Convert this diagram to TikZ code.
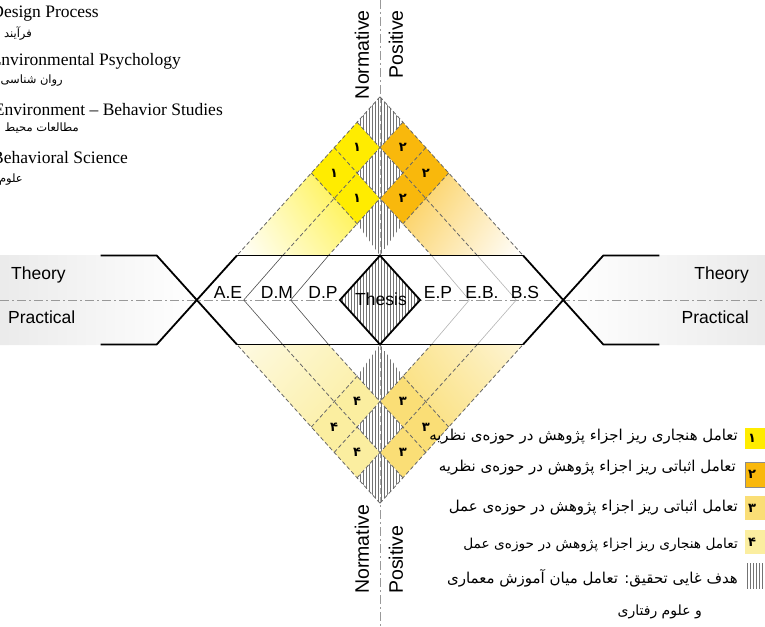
\documentclass[tikz,border=0pt]{standalone}
\usepackage{fontspec}
\setmainfont{Liberation Serif}
\setsansfont{Liberation Sans}
\newfontfamily\fafont[Script=Arabic]{DejaVu Sans}
\TeXXeTstate=1
\usetikzlibrary{patterns,shadings}

\definecolor{normyellow}{RGB}{255,236,0}
\definecolor{posorange}{RGB}{249,184,12}
\definecolor{posgold}{RGB}{250,222,118}
\definecolor{normpale}{RGB}{251,238,160}

\begin{document}
\begin{tikzpicture}[x=1pt,y=-1pt,
    heavy/.style={line width=1.8pt,black},
    guide/.style={line width=0.6pt,black!70},
    faintguide/.style={line width=0.6pt,black!30},
    celledge/.style={line width=0.8pt,black!60,dash pattern=on 4pt off 2.5pt},
    hatched/.style={preaction={fill=white},pattern=vertical lines,pattern color=black!55},
    axisline/.style={line width=1pt,black!40,dash pattern=on 9pt off 3pt on 2pt off 3pt},
    lbl/.style={font=\sffamily\fontsize{17.5}{17.5}\selectfont,inner sep=0pt},
    vlbl/.style={font=\sffamily\fontsize{19.5}{19.5}\selectfont,inner sep=0pt,rotate=90},
    digit/.style={font=\fafont\bfseries\fontsize{13}{13}\selectfont,inner sep=0pt},
    legendtxt/.style={font=\fafont\fontsize{15}{15}\selectfont,inner sep=0pt,anchor=east},
    subj/.style={font=\fontsize{17.5}{17.5}\selectfont,inner sep=0pt,anchor=base east},
    subjfa/.style={font=\fafont\fontsize{11.5}{11.5}\selectfont,inner sep=0pt,anchor=east}]
  \useasboundingbox (0,0) rectangle (765,626);
  \clip (0,0) rectangle (765,626);

  % theory / practical side bands
  \shade[left color=black!8,right color=white] (0,255) -- (157,255) -- (197,300) -- (157,345) -- (0,345) -- cycle;
  \shade[left color=white,right color=black!8] (765,255) -- (603,255) -- (563,300) -- (603,345) -- (765,345) -- cycle;
  \draw[axisline] (0,300) -- (765,300);
  \draw[axisline] (380,0) -- (380,626);

  \begin{scope}[shift={(380,300)},x=22.9pt,y=25.4pt]
    % faded ends of the four bands
    \begin{scope}
      \clip (-3,5) -- (-1,3) -- (-2.25,1.75) -- (-6.25,1.75) -- cycle;
      \shade[upper right=normyellow!80!white,upper left=normyellow!18!white,
        lower right=normyellow!50!white,lower left=white] (-6.25,1.75) rectangle (-1,5);
    \end{scope}
    \begin{scope}
      \clip (3,5) -- (1,3) -- (2.25,1.75) -- (6.25,1.75) -- cycle;
      \shade[upper left=posorange!75!white,upper right=posorange!20!white,
        lower left=posorange!50!white,lower right=white] (1,1.75) rectangle (6.25,5);
    \end{scope}
    \begin{scope}
      \clip (-3,-5) -- (-1,-3) -- (-2.25,-1.75) -- (-6.25,-1.75) -- cycle;
      \shade[lower right=normpale,lower left=normpale!60!white,
        upper right=normpale!75!white,upper left=normpale!30!white] (-6.25,-5) rectangle (-1,-1.75);
    \end{scope}
    \begin{scope}
      \clip (3,-5) -- (1,-3) -- (2.25,-1.75) -- (6.25,-1.75) -- cycle;
      \shade[lower left=posgold,lower right=posgold!60!white,
        upper left=posgold!80!white,upper right=posgold!30!white] (1,-5) rectangle (6.25,-1.75);
    \end{scope}

    % research cells
    \foreach \cx/\cy in {-1/6,-2/5,-1/4}
      \fill[normyellow] (\cx,\cy+1) -- (\cx+1,\cy) -- (\cx,\cy-1) -- (\cx-1,\cy) -- cycle;
    \foreach \cx/\cy in {1/6,2/5,1/4}
      \fill[posorange] (\cx,\cy+1) -- (\cx+1,\cy) -- (\cx,\cy-1) -- (\cx-1,\cy) -- cycle;
    \foreach \cx/\cy in {1/-4,2/-5,1/-6}
      \fill[posgold] (\cx,\cy+1) -- (\cx+1,\cy) -- (\cx,\cy-1) -- (\cx-1,\cy) -- cycle;
    \foreach \cx/\cy in {-1/-4,-2/-5,-1/-6}
      \fill[normpale] (\cx,\cy+1) -- (\cx+1,\cy) -- (\cx,\cy-1) -- (\cx-1,\cy) -- cycle;

    % hatched spine
    \foreach \cy in {7,5,-5,-7}
      \fill[hatched] (0,\cy+1) -- (1,\cy) -- (0,\cy-1) -- (-1,\cy) -- cycle;
    \fill[hatched] (0,4) -- (1,3) -- (0,1.75) -- (-1,3) -- cycle;
    \fill[hatched] (0,-4) -- (1,-3) -- (0,-1.75) -- (-1,-3) -- cycle;
    \draw[black!35,line width=1pt,dash pattern=on 6pt off 3pt] (0,8) -- (0,1.75) (0,-1.75) -- (0,-8);

    % cell borders
    \draw[celledge] (0,8) -- (-6.25,1.75) (1,7) -- (-4.25,1.75) (2,6) -- (-2.25,1.75) (3,5) -- (1,3);
    \draw[celledge] (0,8) -- (6.25,1.75) (-1,7) -- (4.25,1.75) (-2,6) -- (2.25,1.75) (-3,5) -- (-1,3);
    \draw[celledge] (0,-8) -- (-6.25,-1.75) (1,-7) -- (-4.25,-1.75) (2,-6) -- (-2.25,-1.75) (3,-5) -- (1,-3);
    \draw[celledge] (0,-8) -- (6.25,-1.75) (-1,-7) -- (4.25,-1.75) (-2,-6) -- (2.25,-1.75) (-3,-5) -- (-1,-3);

    % thin guides in the middle band
    \draw[guide] (-4.25,1.75) -- (-5.95,0) -- (-4.25,-1.75) (-2.25,1.75) -- (-3.9,0) -- (-2.25,-1.75);
    \draw[faintguide] (4.25,1.75) -- (5.95,0) -- (4.25,-1.75) (2.25,1.75) -- (3.9,0) -- (2.25,-1.75);

    % heavy frame
    \draw[heavy] (-6.25,1.75) -- (6.25,1.75) (-6.25,-1.75) -- (6.25,-1.75);
    \draw[heavy] (-12.2,1.75) -- (-9.75,1.75) -- (-6.25,-1.75) (-12.2,-1.75) -- (-9.75,-1.75) -- (-6.25,1.75);
    \draw[heavy] (12.2,1.75) -- (9.75,1.75) -- (6.25,-1.75) (12.2,-1.75) -- (9.75,-1.75) -- (6.25,1.75);
    \draw[heavy,hatched] (0,1.75) -- (1.75,0) -- (0,-1.75) -- (-1.75,0) -- cycle;

    % cell numbers
    \foreach \cx/\cy [count=\i] in {-1/6,-2/5,-1/4}
      \node[digit] (one\i) at (\cx,\cy) {۱};
    \foreach \cx/\cy [count=\i] in {1/6,2/5,1/4}
      \node[digit] (two\i) at (\cx,\cy) {۲};
    \foreach \cx/\cy [count=\i] in {1/-4,2/-5,1/-6}
      \node[digit] (three\i) at (\cx,\cy) {۳};
    \foreach \cx/\cy [count=\i] in {-1/-4,-2/-5,-1/-6}
      \node[digit] (four\i) at (\cx,\cy) {۴};
  \end{scope}

  % axis labels
  \node[lbl,anchor=base west] (theoryL) at (11,279) {Theory};
  \node[lbl,anchor=base west] (practL) at (8,323) {Practical};
  \node[lbl,anchor=base east] (theoryR) at (749,279) {Theory};
  \node[lbl,anchor=base east] (practR) at (749,323) {Practical};
  \node[vlbl,anchor=east] (normT) at (362,10) {Normative};
  \node[vlbl,anchor=east] (posT) at (396,10) {Positive};
  \node[vlbl,anchor=west] (normB) at (362,594) {Normative};
  \node[vlbl,anchor=west] (posB) at (396,594) {Positive};

  % field labels
  \node[lbl,anchor=base] (ae) at (228,298) {A.E};
  \node[lbl,anchor=base] (dm) at (277,298) {D.M};
  \node[lbl,anchor=base] (dp) at (323,298) {D.P};
  \node[lbl] (thesis) at (381,299) {Thesis};
  \node[lbl,anchor=base] (ep) at (438,298) {E.P};
  \node[lbl,anchor=base] (eb) at (482,298) {E.B.};
  \node[lbl,anchor=base] (bs) at (525,298) {B.S};

  % subject list
  \node[subj] (dsgn) at (99,18) {Design Process};
  \node[subjfa] (dsgnfa) at (32,34) {\beginR فرآیند طراحی\endR};
  \node[subj] (envp) at (181,66) {Environmental Psychology};
  \node[subjfa] (envpfa) at (63,81) {\beginR روان شناسی محیطی\endR};
  \node[subj] (envb) at (223,115) {Environment – Behavior Studies};
  \node[subjfa] (envbfa) at (79,129) {\beginR مطالعات محیط و رفتار\endR};
  \node[subj] (behs) at (128,163) {Behavioral Science};
  \node[subjfa] (behsfa) at (23,180) {\beginR علوم رفتاری\endR};

  % legend
  \fill[normyellow] (745,428) rectangle (765,449);
  \fill[posorange,draw=black!45] (745,462) rectangle (765,487);
  \fill[posgold] (745,496) rectangle (765,520);
  \fill[normpale] (745,530) rectangle (765,554);
  \fill[hatched] (745,563) rectangle (765,588);
  \node[digit] (key1) at (752,438) {۱};
  \node[digit] (key2) at (752,474) {۲};
  \node[digit] (key3) at (752,508) {۳};
  \node[digit] (key4) at (752,542) {۴};
  \node[legendtxt] (txt1) at (738,437) {\beginR تعامل هنجاری ریز اجزاء پژوهش در حوزه‌ی نظریه\endR};
  \node[legendtxt] (txt2) at (736,468) {\beginR تعامل اثباتی ریز اجزاء پژوهش در حوزه‌ی نظریه\endR};
  \node[legendtxt] (txt3) at (738,508) {\beginR تعامل اثباتی ریز اجزاء پژوهش در حوزه‌ی عمل\endR};
  \node[legendtxt,font=\fafont\fontsize{13.7}{13.7}\selectfont] (txt4) at (738,545) {\beginR تعامل هنجاری ریز اجزاء پژوهش در حوزه‌ی عمل\endR};
  \node[legendtxt] (txt5) at (738,578) {\beginR هدف غایی تحقیق: تعامل میان آموزش معماری\endR};
  \node[legendtxt,font=\fafont\fontsize{14}{14}\selectfont] (txt6) at (702,612) {\beginR و علوم رفتاری\endR};
\end{tikzpicture}
\end{document}
